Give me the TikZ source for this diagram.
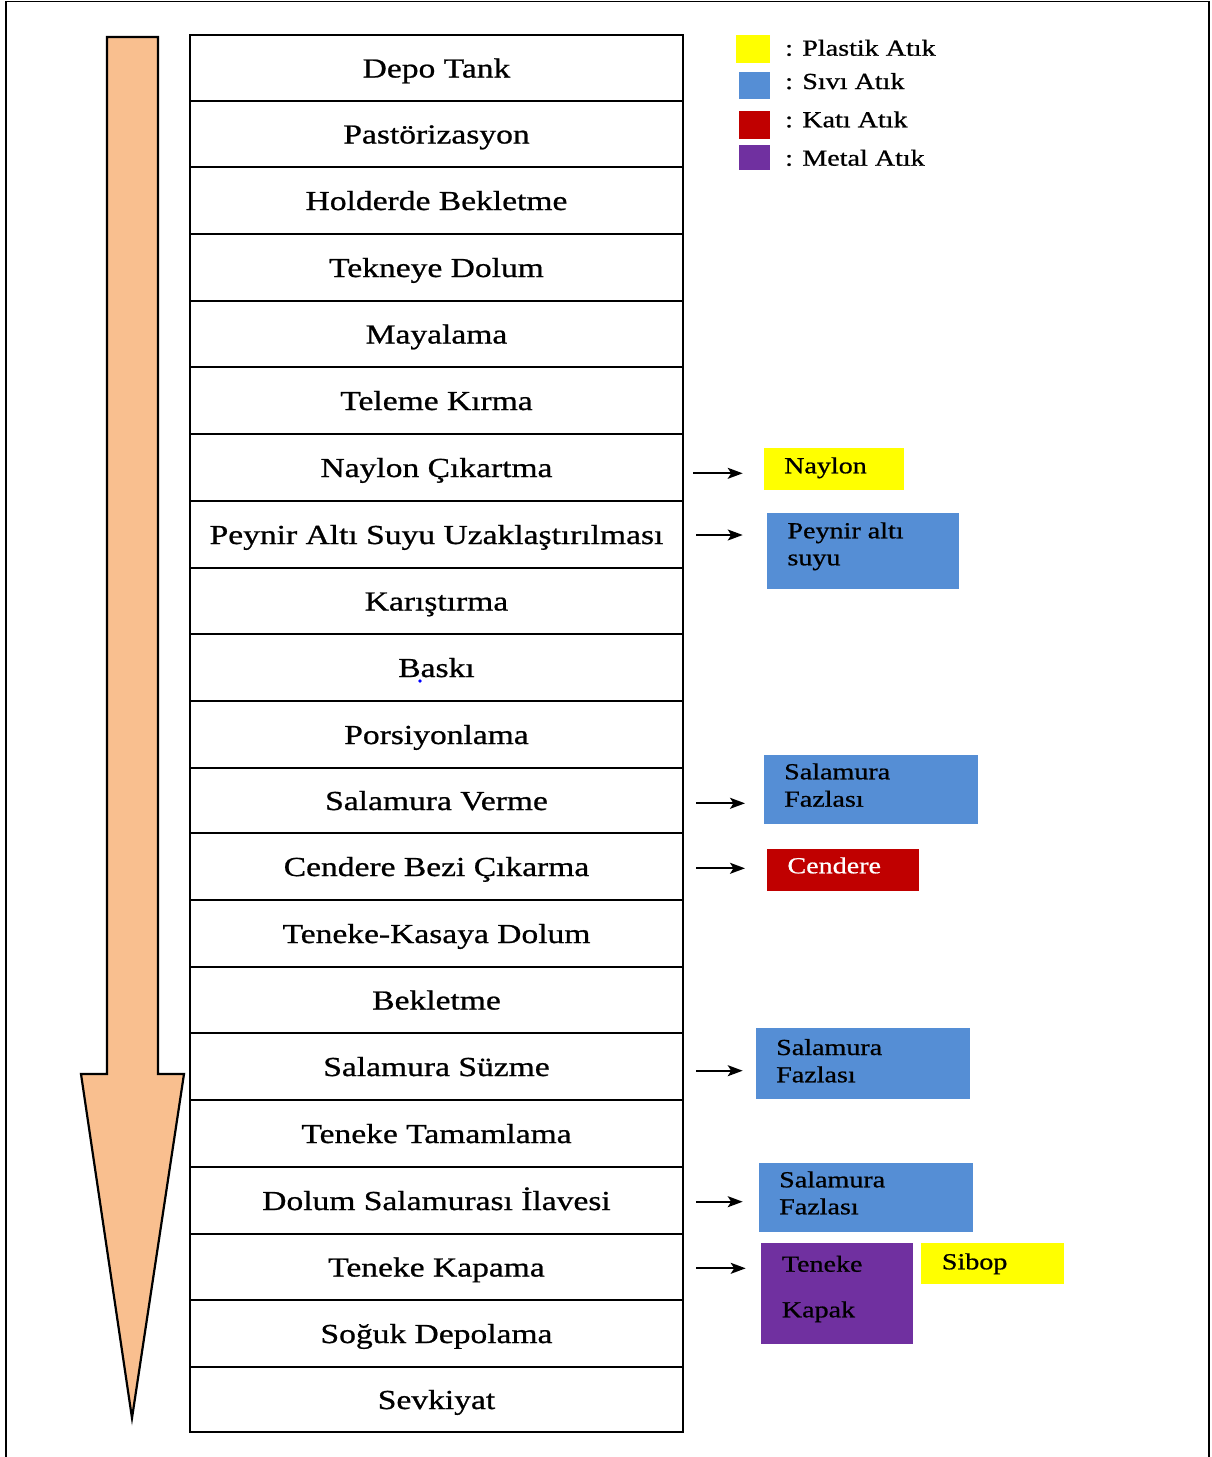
\documentclass[tikz,border=0pt]{standalone}
\usepackage{fontspec}
\setmainfont[FakeStretch=1.22,UprightFeatures={FakeBold=0.8}]{Liberation Serif}
\usetikzlibrary{arrows.meta}
\definecolor{yel}{HTML}{FFFF00}
\definecolor{blu}{HTML}{558ED5}
\definecolor{rd}{HTML}{C00000}
\definecolor{pur}{HTML}{7030A0}
\definecolor{orng}{HTML}{F9BF8F}
\begin{document}
\begin{tikzpicture}[x=1pt,y=-1pt,
  row/.style={draw, line width=2.2pt, minimum width=493pt, inner sep=0pt,
    text height=22pt, text depth=3pt, font=\fontsize{27.5}{30}\selectfont},
  waste/.style={inner sep=0pt, anchor=north west},
  lbl/.style={anchor=base west, inner sep=0pt, font=\fontsize{23}{27}\selectfont},
  arr/.style={-{Stealth[length=15pt,width=11pt,inset=3.5pt]}, line width=1.8pt}]
\useasboundingbox (0,0) rectangle (1211,1457);
% frame
\draw[line width=1.6pt] (6,1457) -- (6,1.5) -- (1209,1.5) -- (1209,1457);
% big arrow
\draw[fill=orng, line width=2.2pt, line join=miter]
  (107,37) -- (158,37) -- (158,1074) -- (184,1074) -- (132,1418)
  -- (81,1074) -- (107,1074) -- cycle;
% rows
\node[row, minimum height=66pt] (r1) at (436.5,68) {Depo Tank};
\node[row, minimum height=66pt] (r2) at (436.5,134) {Pastörizasyon};
\node[row, minimum height=67pt] (r3) at (436.5,200.5) {Holderde Bekletme};
\node[row, minimum height=67pt] (r4) at (436.5,267.5) {Tekneye Dolum};
\node[row, minimum height=66pt] (r5) at (436.5,334) {Mayalama};
\node[row, minimum height=67pt] (r6) at (436.5,400.5) {Teleme Kırma};
\node[row, minimum height=67pt] (r7) at (436.5,467.5) {Naylon Çıkartma};
\node[row, minimum height=67pt] (r8) at (436.5,534.5) {Peynir Altı Suyu Uzaklaştırılması};
\node[row, minimum height=66pt] (r9) at (436.5,601) {Karıştırma};
\node[row, minimum height=67pt] (r10) at (436.5,667.5) {Baskı};
\node[row, minimum height=67pt] (r11) at (436.5,734.5) {Porsiyonlama};
\node[row, minimum height=65pt] (r12) at (436.5,800.5) {Salamura Verme};
\node[row, minimum height=67pt] (r13) at (436.5,866.5) {Cendere Bezi Çıkarma};
\node[row, minimum height=67pt] (r14) at (436.5,933.5) {Teneke-Kasaya Dolum};
\node[row, minimum height=66pt] (r15) at (436.5,1000) {Bekletme};
\node[row, minimum height=67pt] (r16) at (436.5,1066.5) {Salamura Süzme};
\node[row, minimum height=67pt] (r17) at (436.5,1133.5) {Teneke Tamamlama};
\node[row, minimum height=67pt] (r18) at (436.5,1200.5) {Dolum Salamurası İlavesi};
\node[row, minimum height=66pt] (r19) at (436.5,1267) {Teneke Kapama};
\node[row, minimum height=67pt] (r20) at (436.5,1333.5) {Soğuk Depolama};
\node[row, minimum height=65pt] (r21) at (436.5,1399.5) {Sevkiyat};
\fill[blue] (420,681) circle (1.8pt);
% legend
\node[waste, fill=yel, minimum width=34pt, minimum height=27.5pt] (lg1) at (736,35.2) {};
\node[waste, fill=blu, minimum width=31.7pt, minimum height=26.6pt] (lg2) at (738.3,71.7) {};
\node[waste, fill=rd, minimum width=31.7pt, minimum height=27.6pt] (lg3) at (738.3,110.7) {};
\node[waste, fill=pur, minimum width=31.7pt, minimum height=25.7pt] (lg4) at (738.3,144.3) {};
\node[lbl] (lt1) at (785,55.7) {: Plastik Atık};
\node[lbl] (lt2) at (785,89) {: Sıvı Atık};
\node[lbl] (lt3) at (785,127.3) {: Katı Atık};
\node[lbl] (lt4) at (785,165.7) {: Metal Atık};
% waste boxes
\node[waste, fill=yel, minimum width=140pt, minimum height=42pt] (w1) at (764,447.5) {};
\node[lbl] (w1a) at (784,473.3) {Naylon};
\node[waste, fill=blu, minimum width=191.6pt, minimum height=76pt] (w2) at (766.7,512.3) {};
\node[lbl] (w2a) at (787.3,538.3) {Peynir altı};
\node[lbl] (w2b) at (787.3,565.3) {suyu};
\node[waste, fill=blu, minimum width=213.7pt, minimum height=68.6pt] (w3) at (764,754.7) {};
\node[lbl] (w3a) at (784,779.3) {Salamura};
\node[lbl] (w3b) at (784,806.7) {Fazlası};
\node[waste, fill=rd, minimum width=151.6pt, minimum height=42pt] (w4) at (766.7,849) {};
\node[lbl, text=white] (w4a) at (787.3,873.3) {Cendere};
\node[waste, fill=blu, minimum width=213.3pt, minimum height=71.7pt] (w5) at (756,1027.3) {};
\node[lbl] (w5a) at (776,1055) {Salamura};
\node[lbl] (w5b) at (776,1082.3) {Fazlası};
\node[waste, fill=blu, minimum width=213.6pt, minimum height=69.4pt] (w6) at (758.7,1162.3) {};
\node[lbl] (w6a) at (779,1187.3) {Salamura};
\node[lbl] (w6b) at (779,1214.3) {Fazlası};
\node[waste, fill=pur, minimum width=151.3pt, minimum height=101pt] (w7) at (761,1242.3) {};
\node[lbl] (w7a) at (781.7,1271.7) {Teneke};
\node[lbl] (w7b) at (781.7,1317.3) {Kapak};
\node[waste, fill=yel, minimum width=143pt, minimum height=41.7pt] (w8) at (921,1242.3) {};
\node[lbl] (w8a) at (941.7,1269.3) {Sibop};
% arrows
\coordinate (s1) at (693.3,473.3); \coordinate (e1) at (742.7,473.3);
\coordinate (s2) at (696,535);     \coordinate (e2) at (742.7,535);
\coordinate (s3) at (696,803.3);   \coordinate (e3) at (745,803.3);
\coordinate (s4) at (696,868.3);   \coordinate (e4) at (745,868.3);
\coordinate (s5) at (696,1070.7);  \coordinate (e5) at (742.7,1070.7);
\coordinate (s6) at (696,1201.7);  \coordinate (e6) at (742.7,1201.7);
\coordinate (s7) at (696,1268.3);  \coordinate (e7) at (745.7,1268.3);
\foreach \i in {1,...,7} {\draw[arr] (s\i) -- (e\i);}
\end{tikzpicture}
\end{document}
